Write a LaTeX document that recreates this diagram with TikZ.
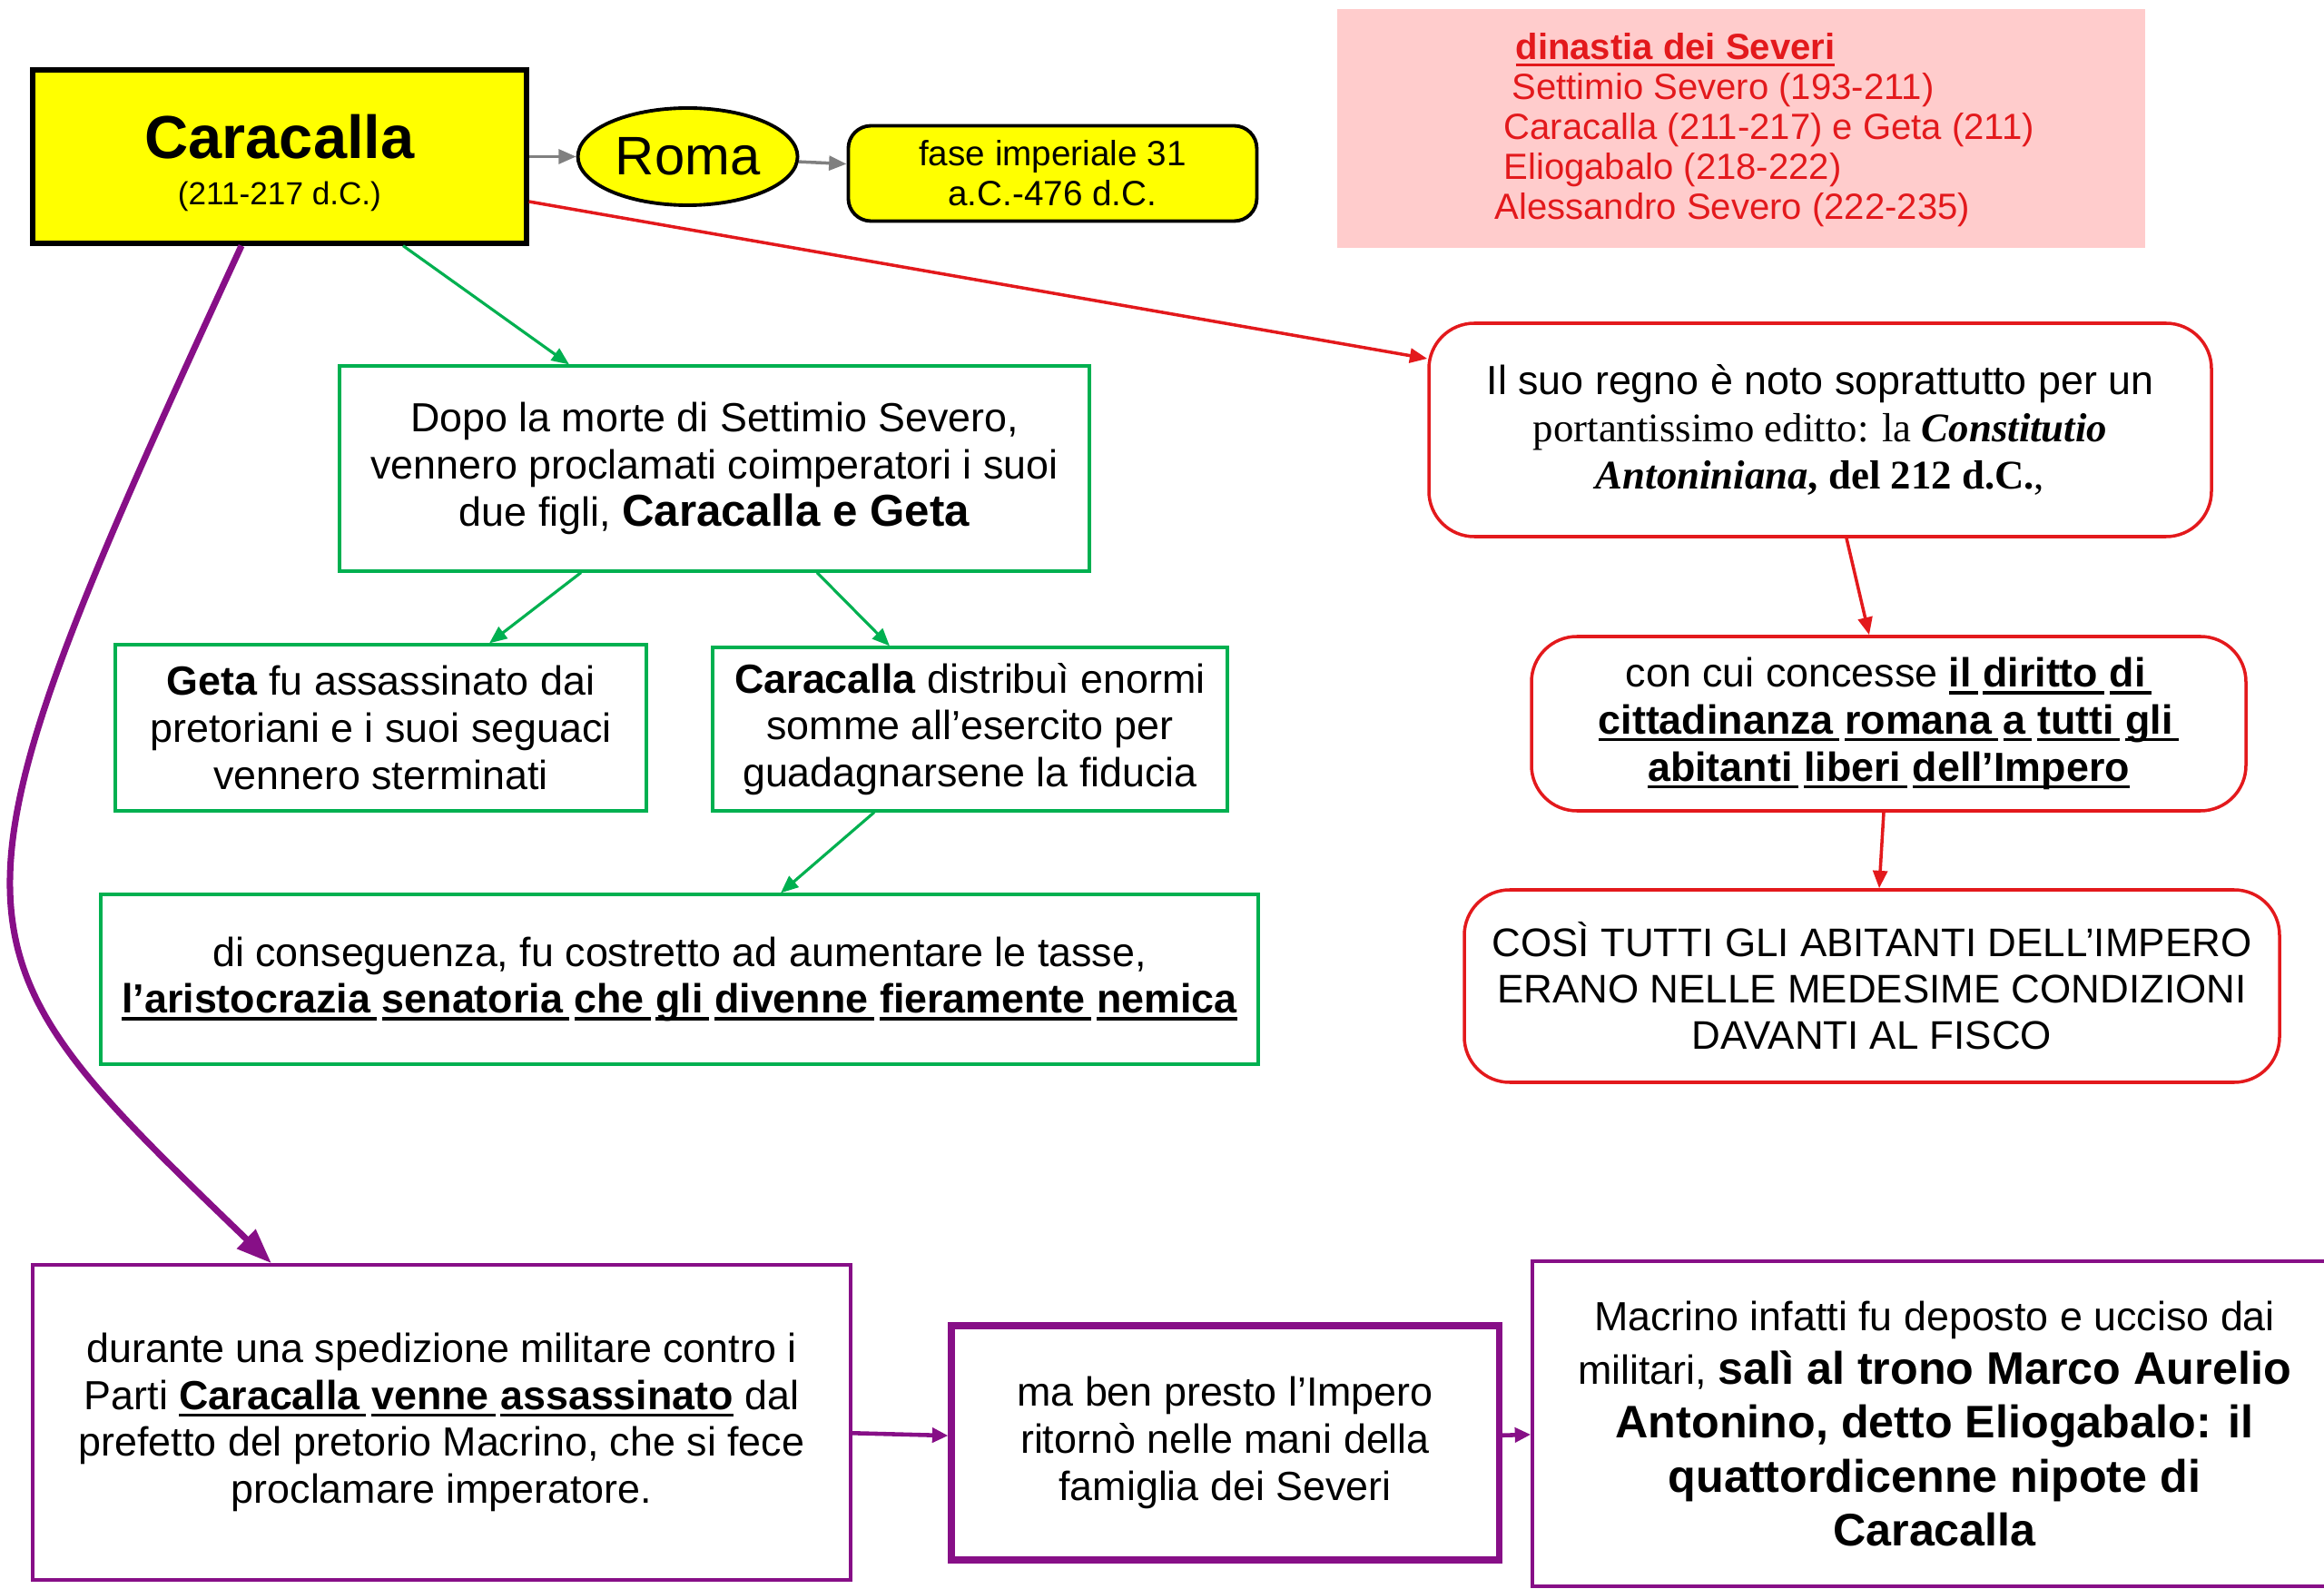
\documentclass[tikz,border=0pt]{standalone}
\usepackage{fontspec}
\setmainfont{Liberation Sans}
\newfontfamily\timesfont{Liberation Serif}
\usepackage{xcolor}
\definecolor{cYellow}{HTML}{FFFF00}
\definecolor{cGreen}{HTML}{00B050}
\definecolor{cRed}{HTML}{E3191C}
\definecolor{cPurple}{HTML}{870F87}
\definecolor{cPink}{HTML}{FFCCCC}
\definecolor{cGray}{HTML}{808080}
\usepackage{tikz}
\usetikzlibrary{positioning,arrows.meta,shapes.geometric}
\newcommand{\ulword}[1]{\setbox0\hbox{#1}\rlap{\rule[-2.2pt]{\wd0}{0.9pt}}\box0}
% parola sottolineata + piccolo stacco prima della successiva
\newcommand{\ulsp}[1]{\ulword{#1\hspace{0.15em}}\hspace{0.13em}}
\newcommand{\bodysize}{\fontsize{12.75}{14.7}\selectfont}
\tikzset{
  node-main/.style={draw=black,line width=1.5pt,fill=cYellow,inner sep=0pt,
    align=center,font=\fontsize{10}{14.5}\selectfont},
  node-roma/.style={ellipse,draw=black,line width=1.1pt,fill=cYellow,inner sep=0pt,
    font=\fontsize{17}{20}\selectfont},
  node-fase/.style={draw=black,line width=1.1pt,fill=cYellow,rounded corners=2.5mm,
    inner sep=0pt,align=center,font=\fontsize{11}{12.5}\selectfont},
  node-pink/.style={fill=cPink,inner sep=0pt},
  node-list/.style={inner sep=0pt,align=left,text=cRed,font=\fontsize{11.4}{12.5}\selectfont},
  node-green/.style={draw=cGreen,line width=0.9pt,inner sep=0pt,align=center,font=\bodysize},
  node-red/.style={draw=cRed,line width=1pt,rounded corners=5mm,inner sep=0pt,
    align=center,font=\bodysize},
  node-purple/.style={draw=cPurple,line width=1pt,inner sep=0pt,align=center,font=\bodysize},
  node-purple-thick/.style={node-purple,line width=2pt},
  arrow-gray/.style={-{Triangle[length=5.5pt,width=4.5pt]},line width=1pt,draw=cGray},
  arrow-green/.style={-{Triangle[length=5.5pt,width=4.5pt]},line width=0.9pt,draw=cGreen},
  arrow-red/.style={-{Triangle[length=5.5pt,width=4.5pt]},line width=1pt,draw=cRed},
  arrow-purple/.style={-{Triangle[length=5pt,width=4.5pt]},line width=1.3pt,draw=cPurple},
  arrow-purple-big/.style={-{Triangle[length=11pt,width=8pt]},line width=2pt,draw=cPurple},
}
\begin{document}
\begin{tikzpicture}
  \useasboundingbox (0,0) rectangle (25.6,-17.5);
  \node[node-main,minimum width=5.44cm,minimum height=1.91cm] (main) at (3.08,-1.725)
    {\rule{0pt}{17.8pt}{\fontsize{19}{22}\selectfont\bfseries Caracalla}\\(211-217 d.C.)};
  \node[node-roma,minimum width=2.42cm,minimum height=1.07cm,right=0.52cm of main] (roma) {Roma};
  \node[node-fase,minimum width=4.5cm,minimum height=1.05cm,right=0.52cm of roma,yshift=-1.85mm]
    (fase) {fase imperiale 31\\a.C.-476 d.C.};
  \node[node-pink,minimum width=8.9cm,minimum height=2.63cm] (pinkbox) at (19.18,-1.415) {};
  \node[node-list,anchor=north west] (severi) at (16.46,-0.36)
    {\hspace*{6.5pt}\textbf{\ulword{dinastia\ }\ulword{dei\ }\ulword{Severi}}\\
     \hspace*{5.4pt}Settimio Severo (193-211)\\
     \hspace*{2.8pt}Caracalla (211-217) e Geta (211)\\
     \hspace*{2.8pt}Eliogabalo (218-222)\\
     Alessandro Severo (222-235)};
  % ramo rosso: l'editto
  \node[node-red,minimum width=8.62cm,minimum height=2.35cm] (regno) at (20.05,-4.735)
    {Il suo regno è noto soprattutto per un\\
     {\timesfont portantissimo editto: la \textbf{\textit{Constitutio}}}\\
     {\timesfont\bfseries\itshape Antoniniana}{\timesfont\bfseries, del 212 d.C.}{\timesfont ,}};
  \node[node-red,minimum width=7.87cm,minimum height=1.92cm] (concesse) at (20.805,-7.97)
    {con cui concesse \textbf{\ulsp{il}\ulsp{diritto}\ulsp{di}}\\
     \textbf{\ulsp{cittadinanza}\ulsp{romana}\ulsp{a}\ulsp{tutti}\ulsp{gli}}\\
     \textbf{\ulsp{abitanti}\ulsp{liberi}\ulword{dell’Impero}}};
  \node[node-red,minimum width=8.98cm,minimum height=2.12cm,font=\fontsize{12.5}{14.5}\selectfont]
    (cosi) at (20.62,-10.86)
    {COSÌ TUTTI GLI ABITANTI DELL’IMPERO\\ERANO NELLE MEDESIME CONDIZIONI\\DAVANTI AL FISCO};
  % ramo verde
  \node[node-green,minimum width=8.26cm,minimum height=2.26cm] (dopo) at (7.87,-5.16)
    {Dopo la morte di Settimio Severo,\\vennero proclamati coimperatori i suoi\\
     due figli, {\fontsize{14}{14.7}\selectfont\bfseries Caracalla e Geta}};
  \node[node-green,minimum width=5.85cm,minimum height=1.83cm] (geta) at (4.195,-8.015)
    {\textbf{Geta} fu assassinato dai\\pretoriani e i suoi seguaci\\vennero sterminati};
  \node[node-green,minimum width=5.67cm,minimum height=1.8cm] (distrib) at (10.685,-8.03)
    {\textbf{Caracalla} distribuì enormi\\somme all’esercito per\\guadagnarsene la fiducia};
  \node[node-green,minimum width=12.75cm,minimum height=1.87cm] (conseg) at (7.485,-10.785)
    {di conseguenza, fu costretto ad aumentare le tasse,\\
     \textbf{\ulsp{l’aristocrazia}\ulsp{senatoria}\ulsp{che}\ulsp{gli}%
     \ulsp{divenne}\ulsp{fieramente}\ulword{nemica}}};
  % ramo viola
  \node[node-purple,minimum width=9.01cm,minimum height=3.47cm] (durante) at (4.865,-15.665)
    {durante una spedizione militare contro i\\
     Parti \textbf{\ulsp{Caracalla}\ulsp{venne}\ulword{assassinato}} dal\\
     prefetto del pretorio Macrino, che si fece\\proclamare imperatore.};
  \node[node-purple-thick,minimum width=6.03cm,minimum height=2.58cm] (ritorno) at (13.495,-15.89)
    {ma ben presto l’Impero\\ritornò nelle mani della\\famiglia dei Severi};
  \node[node-purple,minimum width=8.86cm,minimum height=3.58cm,
    font=\fontsize{12.75}{16.8}\selectfont] (macrino) at (21.31,-15.68)
    {Macrino infatti fu deposto e ucciso dai\\
     militari, {\fontsize{14.3}{16.8}\selectfont\bfseries salì al trono Marco Aurelio}\\
     {\fontsize{14.3}{16.8}\selectfont\bfseries Antonino, detto Eliogabalo: il}\\
     {\fontsize{14.3}{16.8}\selectfont\bfseries quattordicenne nipote di}\\
     {\fontsize{14.3}{16.8}\selectfont\bfseries Caracalla}};

  \draw[arrow-gray]  (main) -- (roma);
  \draw[arrow-gray]  (roma) -- (fase);
  \draw[arrow-red]   ([yshift=-4.95mm]main.east) -- ([yshift=7.85mm]regno.west);
  \draw[arrow-red]   ([xshift=2.9mm]regno.south) -- ([xshift=-2.15mm]concesse.north);
  \draw[arrow-red]   ([xshift=-0.55mm]concesse.south) -- ([xshift=0.8mm]cosi.north);
  \draw[arrow-green] ([xshift=13.6mm]main.south) -- ([xshift=-16mm]dopo.north);
  \draw[arrow-green] ([xshift=-14.7mm]dopo.south) -- ([xshift=11.95mm]geta.north);
  \draw[arrow-green] ([xshift=11.3mm]dopo.south) -- ([xshift=-8.85mm]distrib.north);
  \draw[arrow-green] ([xshift=-10.55mm]distrib.south) -- ([xshift=11.15mm]conseg.north);
  \draw[arrow-purple-big] ([xshift=-4.2mm]main.south)
    .. controls (-0.85,-10.3) and (-0.65,-10.4) .. ([xshift=-18.75mm]durante.north);
  \draw[arrow-purple] (durante) -- (ritorno);
  \draw[arrow-purple] (ritorno) -- (macrino);
\end{tikzpicture}
\end{document}
